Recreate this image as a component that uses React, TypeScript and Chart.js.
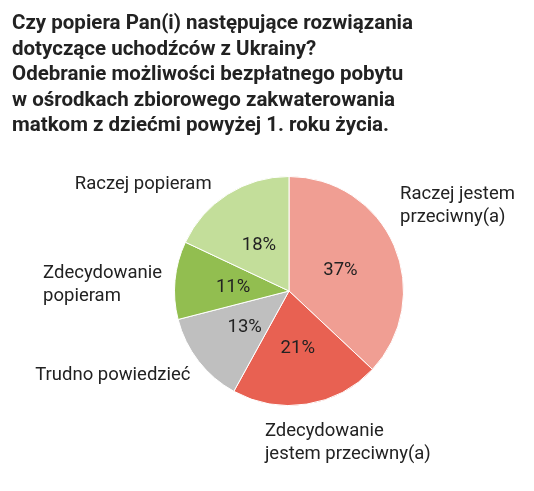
import React, { useEffect, useRef } from "react";
import { Chart, registerables } from "chart.js";
Chart.register(...registerables);

const titleLines = [
  "Czy popiera Pan(i) następujące rozwiązania",
  "dotyczące uchodźców z Ukrainy?",
  "Odebranie możliwości bezpłatnego pobytu",
  "w ośrodkach zbiorowego zakwaterowania",
  "matkom z dziećmi powyżej 1. roku życia.",
];
const categories = [
  ["Raczej jestem", "przeciwny(a)"],
  ["Zdecydowanie", "jestem przeciwny(a)"],
  ["Trudno powiedzieć"],
  ["Zdecydowanie", "popieram"],
  ["Raczej popieram"],
];
const values = [37, 21, 13, 11, 18];
const colors = ["#F09E93", "#E86152", "#BFBFBF", "#92BE50", "#C3DE9A"];
// label placement relative to the slice's outer mid point
const labelAlign = ["left", "left", "right", "leftblock", "right"];
const labelDx = [6, -42, -8, -13, -16];
const labelDy = [-51, 27, 14, -7, -10];

const FONT = "Roboto, 'Noto Sans', sans-serif";

const labelPlugin = {
  id: "pieLabels",
  afterDraw(chart: any) {
    const ctx = chart.ctx;
    ctx.save();
    // title
    ctx.fillStyle = "#222222";
    ctx.font = `bold 20.5px ${FONT}`;
    ctx.textAlign = "left";
    ctx.textBaseline = "alphabetic";
    titleLines.forEach((t, i) => ctx.fillText(t, 12, 29 + i * 25.5));

    const meta = chart.getDatasetMeta(0);
    meta.data.forEach((arc: any, i: number) => {
      const { x, y, startAngle, endAngle, outerRadius } = arc.getProps(
        ["x", "y", "startAngle", "endAngle", "outerRadius"],
        true
      );
      const mid = (startAngle + endAngle) / 2;
      const cx = Math.cos(mid);
      const cy = Math.sin(mid);
      ctx.font = `18.5px ${FONT}`;
      ctx.fillStyle = "#222222";
      ctx.textBaseline = "middle";
      ctx.textAlign = "center";
      const r = outerRadius * 0.49;
      ctx.fillText(values[i] + "%", x + cx * r, y + cy * r + 2);

      const ax = x + cx * outerRadius + labelDx[i];
      const ay = y + cy * outerRadius + labelDy[i];
      const lines = categories[i];
      const mode = labelAlign[i];
      let lx = ax;
      if (mode === "leftblock") {
        const w = Math.max(...lines.map((l) => ctx.measureText(l).width));
        lx = ax - w;
        ctx.textAlign = "left";
      } else {
        ctx.textAlign = mode;
      }
      lines.forEach((l, k) => ctx.fillText(l, lx, ay + k * 23));
    });
    ctx.restore();
  },
};

export default function App() {
  const ref = useRef<HTMLCanvasElement>(null);
  useEffect(() => {
    const chart = new Chart(ref.current!, {
      type: "pie",
      data: {
        labels: categories.map((c) => c.join(" ")),
        datasets: [
          {
            data: values,
            backgroundColor: colors,
            borderColor: "#ffffff",
            borderWidth: 1,
          },
        ],
      },
      options: {
        animation: false,
        responsive: false,
        layout: { padding: { left: 174, right: 130, top: 176, bottom: 85 } },
        plugins: {
          legend: { display: false },
          tooltip: { enabled: false },
          title: { display: false },
        },
      },
      plugins: [labelPlugin],
    });
    return () => chart.destroy();
  }, []);
  return (
    <div style={{ position: "absolute", left: 0, top: 0, width: 534, height: 491, background: "#fff" }}>
      <canvas ref={ref} width={534} height={491} style={{ width: 534, height: 491 }} />
    </div>
  );
}
